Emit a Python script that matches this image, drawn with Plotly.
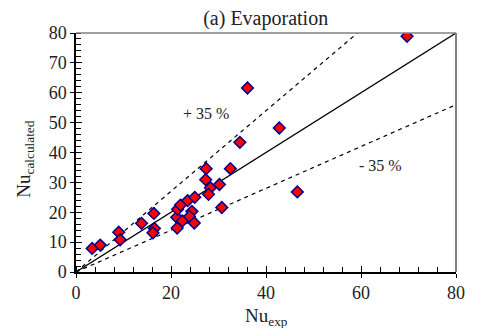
import plotly.graph_objects as go

nu_exp = [3.4, 5.1, 9.0, 9.3, 13.8, 16.4, 16.5, 16.2, 21.3, 21.2, 22.4, 21.4, 22.0, 23.5,
          25.0, 24.4, 23.9, 24.9, 27.4, 27.3, 28.3, 27.9, 30.2, 32.5, 30.7, 36.1, 34.5,
          69.7, 42.8, 46.6]
nu_calc = [7.9, 9.0, 13.3, 10.8, 16.3, 19.6, 14.6, 13.1, 14.7, 18.3, 17.1, 21.0, 22.4, 23.9,
           25.0, 20.3, 18.6, 16.4, 34.6, 30.9, 28.2, 26.0, 29.3, 34.6, 21.6, 61.6, 43.4,
           78.9, 48.2, 26.8]

line_x = [0, 80]
upper_slope = 1.35
lower_slope = 0.70

FONT = "Liberation Serif, Times New Roman, serif"
TXT = "#222"

fig = go.Figure()
fig.add_trace(go.Scatter(x=line_x, y=[v for v in line_x], mode="lines",
                         line=dict(color="black", width=1.3), hoverinfo="skip"))
fig.add_trace(go.Scatter(x=[0, 80 / upper_slope], y=[0, 80], mode="lines",
                         line=dict(color="black", width=1.2, dash="4px,4px"), hoverinfo="skip"))
fig.add_trace(go.Scatter(x=line_x, y=[v * lower_slope for v in line_x], mode="lines",
                         line=dict(color="black", width=1.2, dash="4px,4px"), hoverinfo="skip"))
fig.add_trace(go.Scatter(x=nu_exp, y=nu_calc, mode="markers",
                         marker=dict(symbol="diamond", size=9, color="#FF0000",
                                     line=dict(color="#00008B", width=1.5))))
fig.add_trace(go.Scatter(x=[0], y=[0], xaxis="x2", yaxis="y2", mode="markers",
                         marker=dict(opacity=0), hoverinfo="skip"))

fig.add_annotation(x=27.4, y=53.2, text="+ 35 %", showarrow=False,
                   font=dict(family=FONT, size=16, color=TXT))
fig.add_annotation(x=64.2, y=35.5, text="- 35 %", showarrow=False,
                   font=dict(family=FONT, size=16, color=TXT))
# axis titles
fig.add_annotation(xref="paper", yref="paper", x=0.5, y=-0.19, xanchor="center",
                   yanchor="middle", text="Nu<sub>exp</sub>", showarrow=False,
                   font=dict(family=FONT, size=19, color=TXT))
fig.add_annotation(xref="paper", yref="paper", x=-0.134, y=0.47, xanchor="center",
                   yanchor="middle", text="Nu<sub>calculated</sub>", showarrow=False,
                   textangle=-90, font=dict(family=FONT, size=19, color=TXT))

fig.add_shape(type="line", xref="x domain", yref="y domain", x0=0, x1=1, y0=1, y1=1,
              line=dict(color="#808080", width=1.5))
fig.add_shape(type="line", xref="x domain", yref="y domain", x0=1, x1=1, y0=0, y1=1,
              line=dict(color="#808080", width=2))

fig.update_layout(
    width=477, height=328,
    margin=dict(l=76, r=21, t=33, b=56),
    plot_bgcolor="white", paper_bgcolor="white",
    showlegend=False,
    font=dict(family=FONT, size=18, color=TXT),
    title=dict(text="(a) Evaporation", x=0.557, xanchor="center", y=0.945, yanchor="middle",
               font=dict(family=FONT, size=20, color=TXT)),
    xaxis=dict(range=[0, 80], dtick=20, tick0=0, showgrid=False, zeroline=False,
               showline=True, linecolor="black", linewidth=1.5, automargin=False,
               ticks="outside", ticklen=4, tickcolor="black", tickwidth=1,
               minor=dict(dtick=4, ticks="inside", ticklen=5, tickcolor="black", tickwidth=1),
               tickfont=dict(family=FONT, size=18)),
    yaxis=dict(range=[0, 80], dtick=10, tick0=0, showgrid=False, zeroline=False,
               showline=True, linecolor="black", linewidth=1.5, automargin=False,
               ticks="outside", ticklen=4, tickcolor="black", tickwidth=1,
               minor=dict(dtick=2, ticks="inside", ticklen=5, tickcolor="black", tickwidth=1),
               tickfont=dict(family=FONT, size=18)),
    xaxis2=dict(range=[0, 80], dtick=20, overlaying="x", anchor="y", showgrid=False,
                zeroline=False, showticklabels=False, ticks="inside", ticklen=6,
                tickcolor="black", tickwidth=1, automargin=False),
    yaxis2=dict(range=[0, 80], dtick=10, overlaying="y", anchor="x", showgrid=False,
                zeroline=False, showticklabels=False, ticks="inside", ticklen=6,
                tickcolor="black", tickwidth=1, automargin=False),
)

fig.write_html("out.html")
